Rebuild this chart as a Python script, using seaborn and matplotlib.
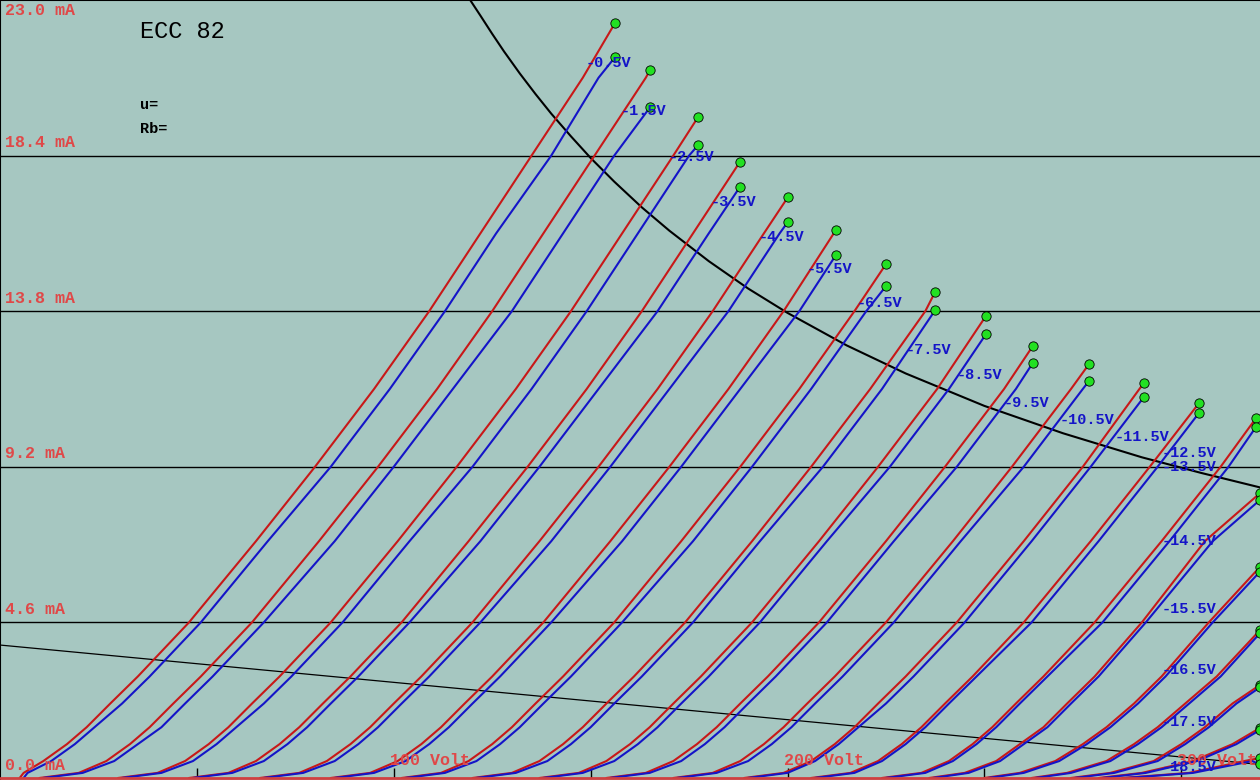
import numpy as np
import pandas as pd
import matplotlib
matplotlib.use("Agg")
import matplotlib.pyplot as plt
import seaborn as sns

# Grid voltages (one red + one blue curve per value)
grid_volts = [-0.5, -1.5, -2.5, -3.5, -4.5, -5.5, -6.5, -7.5, -8.5, -9.5,
              -10.5, -11.5, -12.5, -13.5, -14.5, -15.5, -16.5, -17.5, -18.5, -19.5]

# Anode current levels (mA) at which the anode voltage of each curve was read
i_levels = [0, 0.15, 0.5, 1, 1.5, 2.2, 3, 4.6, 7, 9.2, 11.5, 13.8, 16.1, 18.4, 20.7]

# Anode voltage (V) of the red curves at i_levels (list stops before the end point)
red_v = [
    [5, 6, 11, 17, 22, 28, 35, 48, 65, 80, 95, 109, 122, 135, 148],
    [10, 20, 27, 33, 38, 44, 51, 64, 81, 96, 111, 125, 138, 151, 164],
    [30, 40, 47, 53, 58, 64, 71, 84, 101, 116, 131, 145, 158, 171],
    [48, 58, 65, 71, 76, 82, 89, 102, 119, 134, 149, 163, 176],
    [66, 76, 83, 89, 94, 100, 107, 120, 137, 152, 167, 181, 194],
    [84, 94, 101, 107, 112, 118, 125, 138, 155, 170, 185, 199],
    [102, 112, 119, 125, 130, 136, 143, 156, 173, 188, 203, 217],
    [120, 130, 137, 143, 148, 154, 161, 174, 191, 206, 221, 235],
    [137, 147, 154, 160, 165, 171, 178, 191, 208, 223, 238],
    [154, 164, 171, 177, 182, 188, 195, 208, 225, 240, 255],
    [171, 181, 188, 194, 199, 205, 212, 225, 242, 257, 272],
    [189, 199, 206, 212, 217, 223, 230, 243, 260, 275],
    [206, 216, 223, 229, 234, 240, 247, 260, 277, 292],
    [224, 234, 241, 247, 252, 258, 265, 278, 295, 310],
    [236, 245, 253, 259, 265, 271, 278, 290, 306],
    [250, 259, 268, 275, 281, 288, 295, 307],
    [262, 271, 281, 288, 294, 301, 309],
    [272, 282, 293, 300, 306, 313],
    [279, 290, 303, 313],
    [285, 302, 316],
]

# Anode voltage (V) of the blue curves at i_levels
blue_v = [
    [6, 7, 13, 19, 24, 31, 38, 51, 68, 84, 99, 113, 126, 140, 152],
    [11, 21, 29, 35, 41, 47, 54, 67, 85, 100, 115, 130, 143, 156],
    [31, 41, 49, 55, 60, 67, 74, 87, 104, 120, 135, 149, 162, 175],
    [49, 59, 67, 73, 78, 84, 91, 104, 122, 137, 152, 167, 180],
    [67, 77, 85, 91, 96, 102, 109, 122, 140, 155, 170, 185, 198],
    [85, 95, 103, 109, 114, 120, 127, 140, 158, 173, 188, 203],
    [103, 113, 121, 127, 132, 138, 145, 158, 176, 191, 206, 220],
    [121, 131, 139, 145, 150, 156, 163, 176, 193, 209, 224],
    [138, 148, 156, 162, 167, 173, 180, 193, 210, 226, 241],
    [155, 165, 173, 179, 184, 190, 197, 210, 227, 243, 258],
    [172, 182, 190, 196, 201, 207, 214, 227, 244, 260, 275],
    [190, 200, 207, 213, 218, 225, 232, 245, 262, 277],
    [207, 217, 224, 230, 235, 241, 248, 262, 279, 294],
    [225, 235, 242, 248, 253, 259, 266, 280, 297, 312],
    [237, 246, 254, 260, 266, 272, 279, 291, 308],
    [251, 260, 269, 276, 282, 289, 296, 308],
    [263, 272, 282, 289, 295, 302, 310],
    [273, 283, 294, 301, 307, 314],
    [280, 291, 304, 314],
    [286, 303, 318],
]

# End points of the sweeps (green dots)
end_v = [156.2, 165.1, 177.3, 187.9, 200.1, 212.3, 225.0, 237.5, 250.4, 262.3,
         276.6, 290.5, 304.5, 319.0, 320, 320, 320, 320, 320, 320]
red_end_i = [22.32, 20.93, 19.54, 18.21, 17.17, 16.20, 15.19, 14.37, 13.66, 12.77,
             12.24, 11.68, 11.08, 10.64, 8.42, 6.24, 4.37, 2.75, 1.48, 0.59]
blue_end_i = [21.31, 19.83, 18.71, 17.47, 16.44, 15.46, 14.54, 13.83, 13.12, 12.27,
              11.74, 11.26, 10.79, 10.38, 8.22, 6.10, 4.28, 2.68, 1.42, 0.40]

# Curve label positions (mA) for the blue labels
label_i = [21.13, 19.72, 18.36, 17.03, 15.99, 15.05, 14.04, 12.65, 11.91, 11.08,
           10.58, 10.08, 9.61, 9.19, 7.01, 5.00, 3.19, 1.65, 0.33]

# Max anode dissipation curve
diss_v = [119.4, 122, 125, 128, 132, 136, 140, 145, 150, 156, 163, 170, 180, 190,
          200, 215, 230, 250, 270, 290, 305, 320]
diss_i = [23.0, 22.54, 22.0, 21.48, 20.83, 20.22, 19.64, 18.97, 18.33, 17.63, 16.87,
          16.18, 15.28, 14.47, 13.75, 12.79, 11.96, 11.0, 10.19, 9.48, 9.02, 8.59]

# Load line
load_v = [0, 320]
load_i = [3.93, 0.40]

y_ticks = [0.0, 4.6, 9.2, 13.8, 18.4, 23.0]
x_ticks = [50, 100, 150, 200, 250, 300]
x_labels = [100, 200, 300]

# Build long table for seaborn
rows = []
for k, vg in enumerate(grid_volts):
    for tri, vlist, ie in (("A", red_v[k], red_end_i[k]), ("B", blue_v[k], blue_end_i[k])):
        for v, i in zip(vlist, i_levels):
            rows.append({"V": v, "I": i, "triode": tri, "curve": f"{vg}{tri}"})
        rows.append({"V": end_v[k], "I": ie, "triode": tri, "curve": f"{vg}{tri}"})
df = pd.DataFrame(rows)

ends = pd.DataFrame({"V": end_v * 2, "I": red_end_i + blue_end_i})

sns.set_style("white")
plt.rcParams["font.family"] = ["Liberation Mono", "DejaVu Sans Mono"]

RED = "#c81818"
BLUE = "#1414c8"
TXT_RED = "#e04848"

fig = plt.figure(figsize=(12.6, 7.8), dpi=100)
ax = fig.add_axes([0, 0, 1, 1])
ax.set_facecolor("#a6c7c1")
ax.set_xlim(0, 320)
ax.set_ylim(-0.06, 23.0)

for lvl in y_ticks[1:-1]:
    ax.axhline(lvl, color="black", lw=1, zorder=1)

ax.plot(load_v, load_i, color="black", lw=0.9, zorder=2)
ax.plot(diss_v, diss_i, color="black", lw=1.5, zorder=2)

sns.lineplot(data=df, x="V", y="I", hue="triode", units="curve", estimator=None,
             sort=False, palette={"A": RED, "B": BLUE}, lw=1.5, legend=False,
             ax=ax, zorder=3)

sns.scatterplot(data=ends, x="V", y="I", color="#22e022", edgecolor="black",
                linewidth=0.6, s=45, zorder=5, ax=ax, clip_on=True)

for k, yi in enumerate(label_i):
    lx = min(end_v[k] - 7.4, 295.1)
    ax.text(lx, yi, f"{grid_volts[k]}V", color=BLUE, fontsize=11,
            fontweight="bold", va="center", ha="left", zorder=6)

# axis texts
for v in y_ticks:
    yy = v - 0.30 if v == 23.0 else v + 0.38
    ax.text(1.27, yy, f"{v:.1f} mA", color=TXT_RED, fontsize=12, fontweight="bold",
            va="center", ha="left")
for v in x_labels:
    ax.text(v - 1.0, 0.53, f"{v} Volt", color=TXT_RED, fontsize=12, fontweight="bold",
            va="center", ha="left")
ax.vlines(x_ticks, 0, 0.3, color="black", lw=1)
ax.axhline(0, color="#d04040", lw=2, zorder=4)

ax.text(35.6, 22.08, "ECC 82", color="black", fontsize=17, va="center", ha="left")
ax.text(35.6, 19.89, "u=", color="black", fontsize=11, fontweight="bold", va="center", ha="left")
ax.text(35.6, 19.18, "Rb=", color="black", fontsize=11, fontweight="bold", va="center", ha="left")

ax.set_xticks([])
ax.set_yticks([])
ax.set_xlabel("")
ax.set_ylabel("")
for side in ("top", "left"):
    ax.spines[side].set_color("black")
    ax.spines[side].set_linewidth(1.5)
ax.spines["right"].set_visible(False)
ax.spines["bottom"].set_visible(False)

fig.savefig("out.png", dpi=100)
